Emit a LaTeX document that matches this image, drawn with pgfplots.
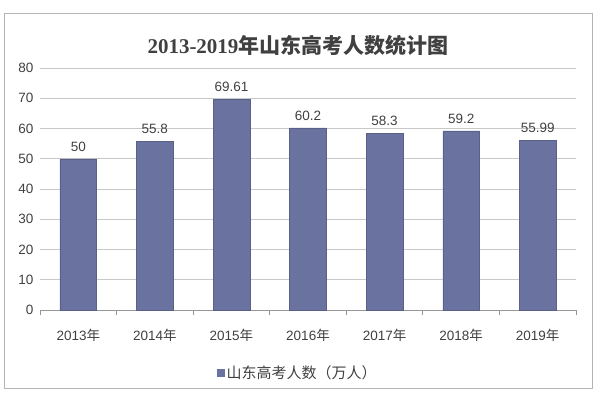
\documentclass[border=0pt]{standalone}
\usepackage{pgfplots}
\pgfplotsset{compat=1.18}
\usepackage{fontspec}
\setmainfont{Liberation Sans}
\newfontfamily\cjk{Noto Sans CJK SC}
\newfontfamily\serif{Liberation Serif}
\definecolor{barcol}{RGB}{106,114,160}
\definecolor{txt}{RGB}{64,64,64}
\definecolor{gridc}{RGB}{200,200,200}
\definecolor{axc}{RGB}{150,150,150}
\definecolor{framec}{RGB}{180,180,180}
\begin{document}
\begin{tikzpicture}[x=1pt,y=1pt]
\useasboundingbox (0,0) rectangle (600,400);
\draw[framec, line width=1pt] (4,12) rectangle (592,386);
\node[txt, font=\fontsize{21}{24}\selectfont\bfseries] at (298,355) {{\serif 2013-2019}{\cjk 年山东高考人数统计图}};
\begin{axis}[
  at={(40pt,90pt)}, anchor=south west,
  scale only axis, width=536pt, height=242pt,
  xmin=-0.5, xmax=6.5, ymin=0, ymax=80,
  ytick={0,10,...,80},
  xtick={0,...,6},
  xticklabels={2013{\cjk 年},2014{\cjk 年},2015{\cjk 年},2016{\cjk 年},2017{\cjk 年},2018{\cjk 年},2019{\cjk 年}},
  minor xtick={-0.5,0.5,...,6.5},
  major x tick style={draw=none},
  minor x tick style={draw=axc, line width=0.8pt},
  xtick pos=bottom, xtick align=outside,
  minor tick length=5pt,
  ytick style={draw=none},
  ymajorgrids, grid style={gridc, line width=0.8pt},
  axis y line*=left,
  y axis line style={draw=none},
  axis x line*=bottom,
  x axis line style={draw=axc, line width=1pt, -},
  tick label style={txt, font=\fontsize{13.5}{15}\selectfont},
  /pgf/number format/assume math mode=true,
  xticklabel style={yshift=-11pt},
  yticklabel style={xshift=-3pt},
  bar width=0.48,
  nodes near coords,
  point meta=explicit symbolic,
  every node near coord/.append style={txt, font=\fontsize{13.5}{15}\selectfont, yshift=4pt},
  legend style={at={(0.481,-0.26)}, anchor=center, draw=none, fill=none,
    font=\fontsize{15}{17}\selectfont\cjk, text=txt},
  legend image code/.code={\fill[barcol] (0pt,-3.5pt) rectangle (7pt,3.5pt);},
]
\addplot[ybar, fill=barcol, draw=barcol!85!black] coordinates {
  (0,50) [50]
  (1,55.8) [55.8]
  (2,69.61) [69.61]
  (3,60.2) [60.2]
  (4,58.3) [58.3]
  (5,59.2) [59.2]
  (6,55.99) [55.99]
};
\addlegendentry{山东高考人数（万人）}
\end{axis}
\end{tikzpicture}
\end{document}
